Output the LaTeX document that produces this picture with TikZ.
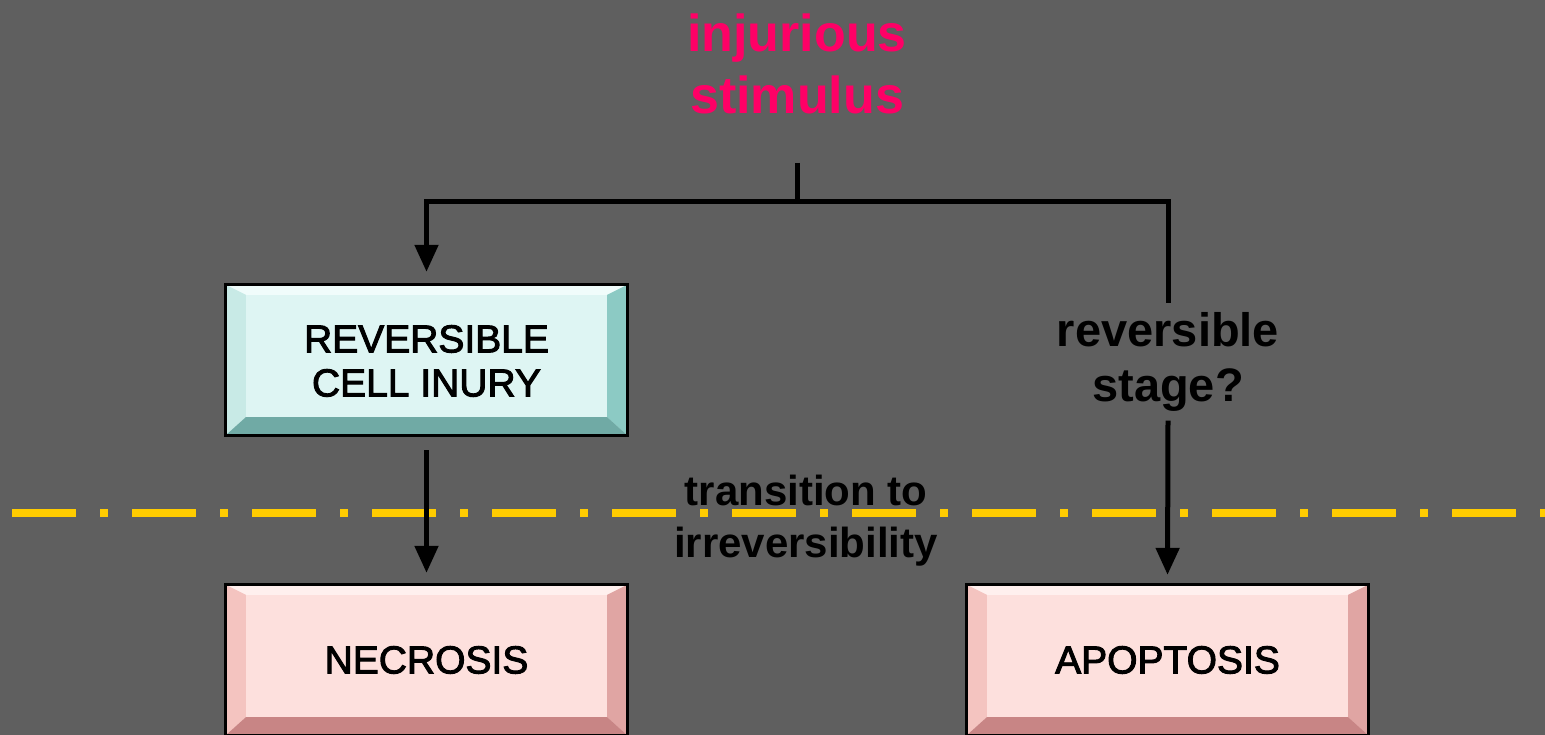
\documentclass[tikz,border=0pt]{standalone}
\usepackage{fontspec}
\setmainfont{Liberation Sans}
\newfontfamily\boxfont{Liberation Sans}[FakeBold=2.5]
\usetikzlibrary{arrows.meta,calc}

\definecolor{bggray}{RGB}{95,95,95}
\definecolor{stimcol}{RGB}{255,0,102}
\definecolor{limitcol}{RGB}{255,204,0}
% teal bevel box
\definecolor{tealface}{RGB}{222,245,243}
\definecolor{tealtop}{RGB}{240,252,251}
\definecolor{tealleft}{RGB}{200,234,230}
\definecolor{tealright}{RGB}{140,202,196}
\definecolor{tealbottom}{RGB}{112,170,165}
% pink bevel box
\definecolor{pinkface}{RGB}{253,224,221}
\definecolor{pinktop}{RGB}{255,240,238}
\definecolor{pinkleft}{RGB}{244,196,192}
\definecolor{pinkright}{RGB}{224,165,163}
\definecolor{pinkbottom}{RGB}{200,133,133}

% bevel edges of a box node: #1 node, #2..#5 top/left/right/bottom colours
\newcommand{\bevelrim}[5]{%
  \fill[#2] (#1.north west) -- (#1.north east) -- ($(#1.north east)+(-20,10)$) -- ($(#1.north west)+(20,10)$) -- cycle;
  \fill[#3] (#1.north west) -- ($(#1.north west)+(20,10)$) -- ($(#1.south west)+(20,-18)$) -- (#1.south west) -- cycle;
  \fill[#4] (#1.north east) -- ($(#1.north east)+(-20,10)$) -- ($(#1.south east)+(-20,-18)$) -- (#1.south east) -- cycle;
  \fill[#5] (#1.south west) -- ($(#1.south west)+(20,-18)$) -- ($(#1.south east)+(-20,-18)$) -- (#1.south east) -- cycle;
  \draw[line width=3] (#1.north west) rectangle (#1.south east);
}

\tikzset{
  x=1pt, y=-1pt,
  boxnode/.style={rectangle, minimum width=401, minimum height=150, inner sep=0},
  boxtext/.style={align=center, font=\boxfont\fontsize{39}{44}\selectfont},
  conn/.style={line width=5, black},
  arr/.style={conn, -{Triangle[length=27pt,width=23pt]}},
  boldlabel/.style={align=center, inner sep=0, font=\bfseries}
}

\begin{document}
\begin{tikzpicture}
  \useasboundingbox (0,0) rectangle (1545,735);
  \clip (0,0) rectangle (1545,735);
  \fill[bggray] (0,0) rectangle (1545,735);

  % heading
  \node[boldlabel, text=stimcol, font=\bfseries\fontsize{52}{62}\selectfont] (stim) at (797,64) {injurious\\stimulus};

  % outcome boxes
  \node[boxnode, fill=tealface] (rev) at (426.5,360) {};
  \bevelrim{rev}{tealtop}{tealleft}{tealright}{tealbottom}
  \node[boxtext] (revtext) at (426.5,361) {REVERSIBLE\\CELL INURY};

  \node[boxnode, fill=pinkface] (nec) at (426.5,660) {};
  \bevelrim{nec}{pinktop}{pinkleft}{pinkright}{pinkbottom}
  \node[boxtext] (nectext) at (426.5,660) {NECROSIS};

  \node[boxnode, fill=pinkface] (apo) at (1167.5,660) {};
  \bevelrim{apo}{pinktop}{pinkleft}{pinkright}{pinkbottom}
  \node[boxtext] (apotext) at (1167.5,660) {APOPTOSIS};

  % point of no return
  \draw[limitcol, line width=8, dash pattern=on 64 off 24 on 8 off 24] (12,513) -- (1560,513);

  % side labels
  \node[boldlabel, font=\bfseries\fontsize{47}{55}\selectfont, inner ysep=9] (stage) at (1168,362) {reversible\\stage?};
  \node[boldlabel, font=\bfseries\fontsize{42}{52}\selectfont] (trans) at (806,521) {transition to\\irreversibility};

  % branching connectors
  \coordinate (stem) at (797,163);
  \coordinate (split) at (797,202);
  \draw[conn] (stem) -- (split);
  \draw[arr, shorten >=13pt] (split) -| (rev.north);
  \draw[conn] (split) -| (stage.north);
  \draw[arr, shorten <=15pt, shorten >=12pt] (rev.south) -- (nec.north);
  \draw[arr, shorten >=10pt] (stage.south) -- (apo.north);
\end{tikzpicture}
\end{document}
